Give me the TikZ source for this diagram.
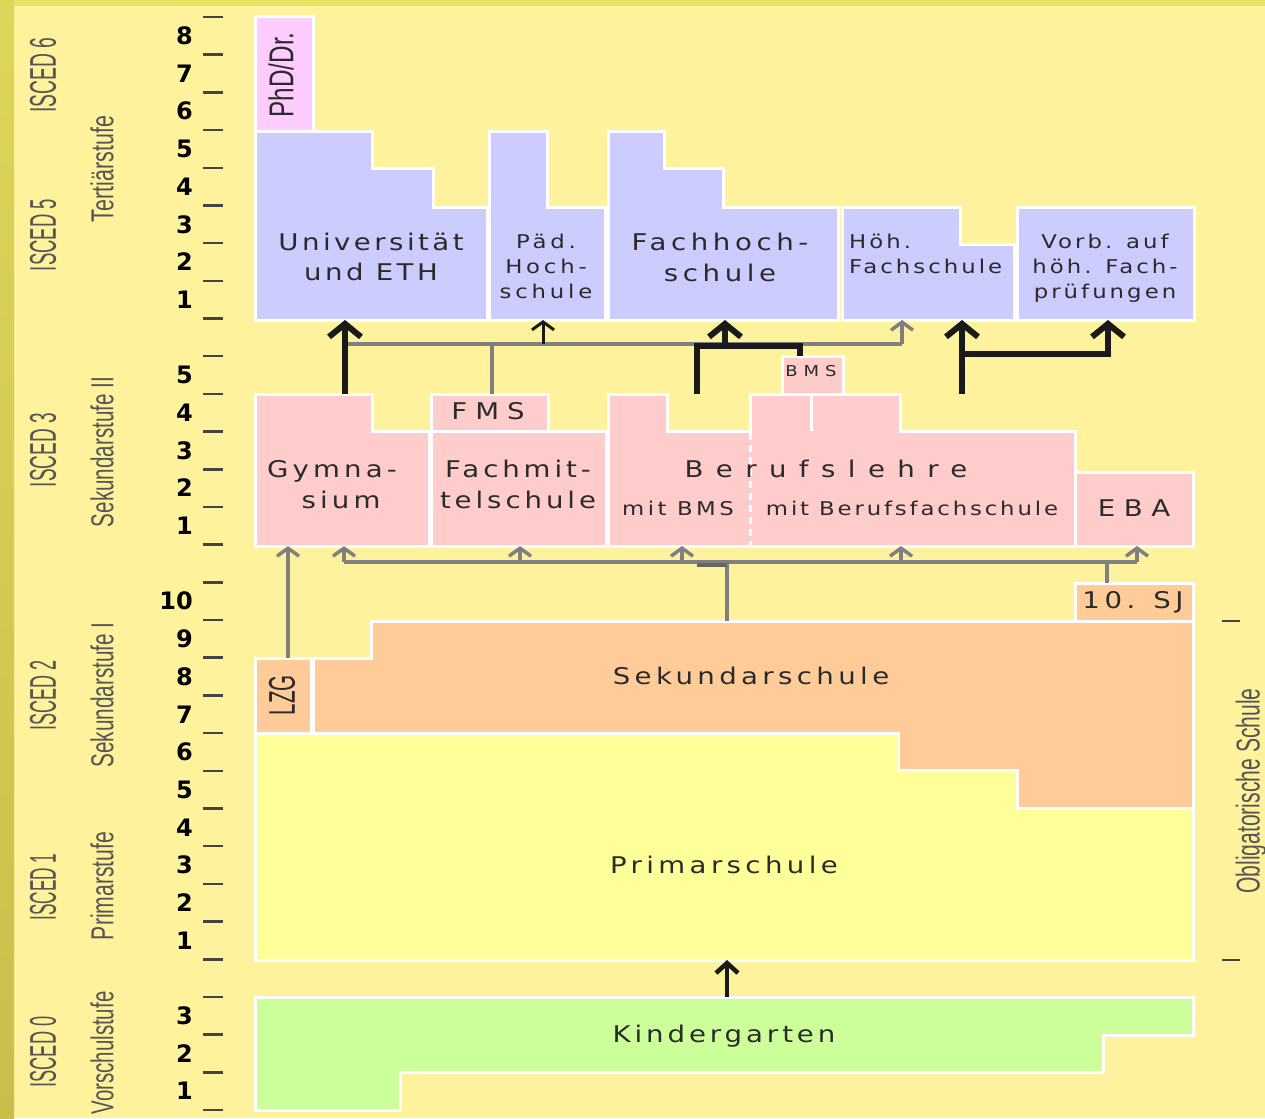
\documentclass[tikz,border=0pt]{standalone}
\usepackage{fontspec}
\setmainfont{DejaVu Sans}
\newfontfamily\sidefont{Liberation Sans}
\usetikzlibrary{arrows.meta}
\definecolor{bg}{HTML}{FFF29C}
\definecolor{stripL}{HTML}{DCD65A}
\definecolor{stripLb}{HTML}{C9BE4A}
\definecolor{stripT}{HTML}{E8E262}
\definecolor{tert}{HTML}{CCCCFF}
\definecolor{phd}{HTML}{FFCCFF}
\definecolor{sekz}{HTML}{FFCCCC}
\definecolor{seke}{HTML}{FFCC99}
\definecolor{prim}{HTML}{FFFF99}
\definecolor{kg}{HTML}{CCFF99}
\definecolor{txt}{HTML}{2B2B2B}
\definecolor{sidegray}{HTML}{555555}
\definecolor{tickc}{HTML}{444444}
\definecolor{gline}{HTML}{808080}
\definecolor{bline}{HTML}{1A1A1A}
\newcommand\blabel[3]{{\fontsize{#1}{#1}\selectfont\addfontfeature{FakeStretch=1.2,LetterSpace=#2}#3}}
\newcommand\sidetxt[3]{\resizebox{#1pt}{#2pt}{\sidefont #3}}
\begin{document}
\begin{tikzpicture}[x=1pt,y=-1pt,
  blk/.style={draw=white, line width=3pt, line join=miter},
  lbl/.style={inner sep=0pt, text=txt, anchor=base},
  lblw/.style={inner sep=0pt, text=txt, anchor=base west},
  sidelbl/.style={inner sep=0pt, text=sidegray, rotate=90},
  rotlbl/.style={inner sep=0pt, text=txt, rotate=90},
  num/.style={inner sep=0pt, anchor=base east, font=\fontsize{24}{24}\selectfont\bfseries},
  tickline/.style={draw=tickc, line width=2.5pt},
  gl/.style={draw=gline, line width=3.5pt},
  bl/.style={draw=bline, line width=6pt, line join=miter},
  thinarr/.style={draw=gline, line width=3.5pt, -{Straight Barb[length=8pt,width=22pt]}},
  thinarrd/.style={draw=bline, line width=3pt, -{Straight Barb[length=8pt,width=22pt]}},
  thickarr/.style={draw=bline, line width=6pt, line join=miter, -{Straight Barb[length=13pt,width=32pt]}},
  kgarr/.style={draw=bline, line width=4.5pt, -{Straight Barb[length=10pt,width=22pt]}}
]
\useasboundingbox (0,0) rectangle (1265,1118);
% background
\fill[bg] (0,0) rectangle (1265,1118);
\shade[top color=stripL, bottom color=stripLb] (0,0) rectangle (14,1118);
\fill[stripT] (14,0) rectangle (1265,6);

% ticks and numbers
\foreach \k in {0,...,29}{
  \draw[tickline] (203,{17+37.69*\k}) -- (223,{17+37.69*\k});
}
\foreach \n in {1,...,8}{
  \node[num] (na\n) at (193,{17+37.69*(8-\n+0.5)+8.75}) {\n};
}
\foreach \n in {1,...,5}{
  \node[num] (nb\n) at (193,{17+37.69*(14-\n+0.5)+8.75}) {\n};
}
\foreach \n in {1,...,10}{
  \node[num] (nc\n) at (193,{17+37.69*(25-\n+0.5)+8.75}) {\n};
}
\foreach \n in {1,...,3}{
  \node[num] (nd\n) at (193,{17+37.69*(29-\n+0.5)+8.75}) {\n};
}
% right ticks
\draw[tickline] (1222,621) -- (1240,621);
\draw[tickline] (1222,960) -- (1240,960);

% side labels
\node[sidelbl] (s1) at (43,75) {\sidetxt{75}{26}{ISCED 6}};
\node[sidelbl] (s2) at (43,235) {\sidetxt{72}{26}{ISCED 5}};
\node[sidelbl] (s3) at (102,169) {\sidetxt{106}{23}{Tertiärstufe}};
\node[sidelbl] (s4) at (43,450) {\sidetxt{74}{26}{ISCED 3}};
\node[sidelbl] (s5) at (102,452) {\sidetxt{150}{23}{Sekundarstufe II}};
\node[sidelbl] (s6) at (43,695) {\sidetxt{70}{26}{ISCED 2}};
\node[sidelbl] (s7) at (102,695) {\sidetxt{145}{23}{Sekundarstufe I}};
\node[sidelbl] (s8) at (43,887) {\sidetxt{67}{26}{ISCED 1}};
\node[sidelbl] (s9) at (102,886) {\sidetxt{108}{23}{Primarstufe}};
\node[sidelbl] (s10) at (43,1052) {\sidetxt{71}{26}{ISCED 0}};
\node[sidelbl] (s11) at (102,1053) {\sidetxt{123}{23}{Vorschulstufe}};
\node[sidelbl] (s12) at (1251,791) {\sidetxt{205}{24}{Obligatorische Schule}};

% tertiary blocks
\filldraw[blk, fill=phd] (255,17) rectangle (313,132);
\filldraw[blk, fill=tert] (255,132) -- (372,132) -- (372,169) -- (433,169) -- (433,207) -- (487,207) -- (487,320) -- (255,320) -- cycle;
\filldraw[blk, fill=tert] (489,132) -- (547,132) -- (547,207) -- (605,207) -- (605,320) -- (489,320) -- cycle;
\filldraw[blk, fill=tert] (608,132) -- (664,132) -- (664,169) -- (723,169) -- (723,207) -- (838,207) -- (838,320) -- (608,320) -- cycle;
\filldraw[blk, fill=tert] (842,207) -- (960,207) -- (960,244) -- (1014,244) -- (1014,320) -- (842,320) -- cycle;
\filldraw[blk, fill=tert] (1017,207) rectangle (1194,320);

% secondary II blocks
\filldraw[blk, fill=sekz] (255,394) -- (372,394) -- (372,431) -- (429,431) -- (429,546) -- (255,546) -- cycle;
\filldraw[blk, fill=sekz] (431,431) rectangle (606,546);
\filldraw[blk, fill=sekz] (431,394) rectangle (548,431);
\filldraw[blk, fill=sekz] (608,394) -- (667,394) -- (667,431) -- (750,431) -- (750,394) -- (900,394) -- (900,431) -- (1075,431) -- (1075,546) -- (608,546) -- cycle;
\draw[draw=white, line width=3pt] (811,394) -- (811,431);
\filldraw[blk, fill=sekz] (782,356) rectangle (843,394);
\draw[draw=white, line width=3pt, dash pattern=on 7pt off 5pt] (750,433) -- (750,546);
\filldraw[blk, fill=sekz] (1075,472) rectangle (1193,546);

% secondary I / primary
\filldraw[blk, fill=seke] (1075,583) rectangle (1193,621);
\filldraw[blk, fill=seke] (255,658) rectangle (311,733);
\filldraw[blk, fill=prim] (255,733) -- (898,733) -- (898,770) -- (1017,770) -- (1017,808) -- (1193,808) -- (1193,960) -- (255,960) -- cycle;
\filldraw[blk, fill=seke] (313,658) -- (371,658) -- (371,621) -- (1193,621) -- (1193,808) -- (1017,808) -- (1017,770) -- (898,770) -- (898,733) -- (313,733) -- cycle;
\filldraw[blk, fill=kg] (255,997) -- (1193,997) -- (1193,1035) -- (1103,1035) -- (1103,1072) -- (400,1072) -- (400,1110) -- (255,1110) -- cycle;

% labels
\node[rotlbl] (phdl) at (281,75) {\sidetxt{85}{25}{PhD/Dr.}};
\node[lbl] (u1) at (371,250) {\blabel{23}{15}{Universität}};
\node[lbl] (u2) at (371,280) {\blabel{23}{15}{und ETH}};
\node[lbl] (p1) at (546,248) {\blabel{19}{20}{Päd.}};
\node[lbl] (p2) at (546,273) {\blabel{19}{20}{Hoch-}};
\node[lbl] (p3) at (546,298) {\blabel{19}{20}{schule}};
\node[lbl] (f1) at (720,250) {\blabel{23}{20}{Fachhoch-}};
\node[lbl] (f2) at (720,281) {\blabel{23}{20}{schule}};
\node[lblw] (h1) at (849,248) {\blabel{19}{16}{Höh.}};
\node[lblw] (h2) at (849,273) {\blabel{19}{16}{Fachschule}};
\node[lbl] (v1) at (1105,248) {\blabel{19}{16}{Vorb. auf}};
\node[lbl] (v2) at (1105,273) {\blabel{19}{16}{höh. Fach-}};
\node[lbl] (v3) at (1105,298) {\blabel{19}{16}{prüfungen}};
\node[lbl] (fms) at (488,419) {\blabel{23}{35}{FMS}};
\node[lbl] (g1) at (332,477) {\blabel{23}{18}{Gymna-}};
\node[lbl] (g2) at (341,508) {\blabel{23}{18}{sium}};
\node[lbl] (fm1) at (518,477) {\blabel{23}{17}{Fachmit-}};
\node[lbl] (fm2) at (518,508) {\blabel{23}{17}{telschule}};
\node[lbl] (bl1) at (826,477) {\blabel{23}{54}{Berufslehre}};
\node[lbl] (bl2) at (678,515) {\blabel{19}{18}{mit BMS}};
\node[lbl] (bl3) at (912,515) {\blabel{19}{15}{mit Berufsfachschule}};
\node[lbl] (eba) at (1134,516) {\blabel{23}{37}{EBA}};
\node[lbl] (bms) at (811,376) {\blabel{15}{40}{BMS}};
\node[lbl] (sj) at (1133,608) {\blabel{23}{20}{10. SJ}};
\node[rotlbl] (lzg) at (282,695) {\sidetxt{40}{26}{LZG}};
\node[lbl] (sek) at (751,684) {\blabel{23}{19}{Sekundarschule}};
\node[lbl] (pri) at (724,873) {\blabel{23}{19}{Primarschule}};
\node[lbl] (kin) at (724,1042) {\blabel{23}{17}{Kindergarten}};

% connector coordinates
\coordinate (gymT) at (345,394); \coordinate (uniB) at (345,320);
\coordinate (fmsT) at (492,394); \coordinate (jf) at (492,344);
\coordinate (hl) at (345,344); \coordinate (hr) at (902,344);
\coordinate (jp) at (543,344); \coordinate (padB) at (543,320);
\coordinate (hohB) at (902,320);
\coordinate (blT) at (697,394); \coordinate (bmsT) at (800,356);
\coordinate (jfh) at (725,346); \coordinate (fhB) at (725,320);
\coordinate (bl2T) at (962,394); \coordinate (hoh2B) at (962,320);
\coordinate (jv) at (962,354); \coordinate (vorbB) at (1108,320);
\coordinate (lzgT) at (288,658); \coordinate (gymB) at (288,546);
\coordinate (ll) at (344,562); \coordinate (lr) at (1137,562);
\coordinate (sekT) at (727,621); \coordinate (js) at (727,562);
\coordinate (sjT) at (1107,583); \coordinate (jsj) at (1107,562);
\coordinate (kgT) at (727,997); \coordinate (priB) at (727,960);

% upper connectors
\draw[gl] (hl) -- (hr);
\draw[gl] (fmsT) -- (jf);
\draw[thinarrd] (jp) -- (padB);
\draw[thinarr] (hr) -- (hohB);
\draw[thickarr] (gymT) -- (uniB);
\draw[bl] (blT) |- (jfh) -- (800,346) -- (bmsT);
\draw[thickarr] (jfh) -- (fhB);
\draw[thickarr] (bl2T) -- (hoh2B);
\draw[thickarr] (jv) -| (vorbB);

% lower connectors
\draw[thinarr] (lzgT) -- (gymB);
\draw[gl] (ll) -- (lr);
\foreach \xx/\nm in {344/a1,520/a2,682/a3,901/a4,1137/a5}{
  \coordinate (f\nm) at (\xx,562);
  \coordinate (t\nm) at (\xx,546);
  \draw[thinarr] (f\nm) -- (t\nm);
}
\draw[gl] (sekT) -- (js);
\draw[draw=gline!80!black, line width=3.5pt] (697,565) -- (727,565);
\draw[gl] (sjT) -- (jsj);
\draw[kgarr] (kgT) -- (priB);
\end{tikzpicture}
\end{document}
